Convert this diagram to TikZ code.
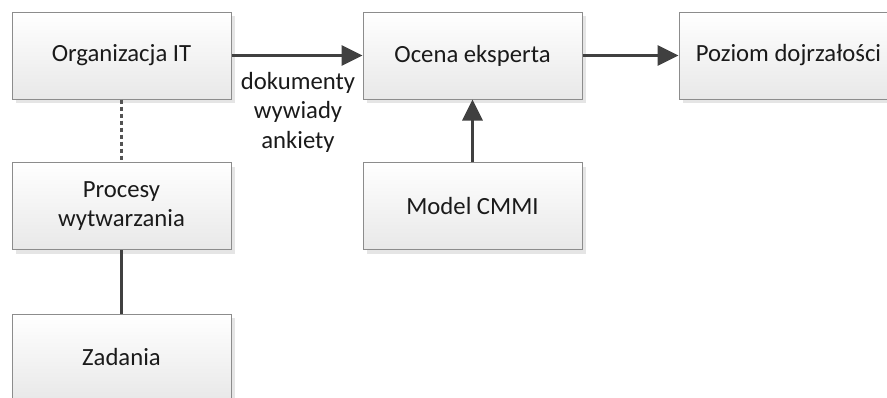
\documentclass[tikz,border=0pt]{standalone}
\usepackage{fontspec}
\setmainfont{Carlito}
\usetikzlibrary{arrows.meta,shadows}
\definecolor{boxline}{HTML}{8C8C8C}
\definecolor{boxbottom}{HTML}{E8E8E8}
\definecolor{linkcol}{HTML}{404040}
\definecolor{txt}{HTML}{1A1A1A}
\tikzset{
  stepbox/.style={draw=boxline, line width=1pt, top color=white, bottom color=boxbottom,
    minimum width=219pt, minimum height=87pt, inner sep=0pt, align=center,
    text=txt, font=\fontsize{24.7}{29.5}\selectfont,
    drop shadow={shadow xshift=4pt, shadow yshift=-4pt, fill=black!10, opacity=1}},
  flow/.style={draw=linkcol, line width=3pt, -{Triangle[length=21pt,width=20pt]}},
  link/.style={draw=linkcol, line width=3pt},
  dotlink/.style={draw=linkcol!90, line width=3pt, dash pattern=on 4pt off 3pt},
  lbl/.style={text=txt, font=\fontsize{24.7}{29.5}\selectfont, align=center, inner sep=0pt}
}
\begin{document}
\begin{tikzpicture}[x=1pt,y=-1pt]
\useasboundingbox (0,0) rectangle (887,397);
\clip (0,0) rectangle (887,397);
\fill[white] (0,0) rectangle (887,397);

\node[stepbox] (org) at (121.5,55.5) {Organizacja IT};
\node[stepbox] (ocena) at (472.5,55.5) {Ocena eksperta};
\node[stepbox] (poziom) at (788.5,55.5) {Poziom dojrzałości};
\node[stepbox] (proc) at (121.5,206) {Procesy\\wytwarzania};
\node[stepbox] (cmmi) at (472.5,206) {Model CMMI};
\node[stepbox] (zad) at (121.5,357.5) {Zadania};

\draw[flow] (org) -- (ocena);
\draw[flow] (ocena) -- (poziom);
\draw[flow] (cmmi) -- (ocena);
\draw[dotlink] (org) -- (proc);
\draw[link] (proc) -- (zad);

\node[lbl] (src) at (298,112) {dokumenty\\wywiady\\ankiety};
\end{tikzpicture}
\end{document}
